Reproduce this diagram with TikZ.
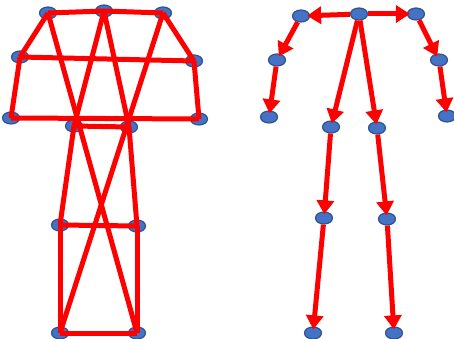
\documentclass[tikz,border=0pt]{standalone}
\usetikzlibrary{shapes.geometric,arrows.meta}
\definecolor{jointfill}{HTML}{4472C4}
\definecolor{jointdraw}{HTML}{2F528F}
\begin{document}
\begin{tikzpicture}[x=1pt,y=-1pt,
  joint/.style={ellipse,fill=jointfill,draw=jointdraw,line width=1.2pt,minimum width=17pt,minimum height=12pt,inner sep=0pt},
  bone/.style={red,line width=5pt},
  arr/.style={red,line width=5pt,-{Triangle[length=14pt,width=17pt]},shorten >=-3pt}]
\useasboundingbox (0,0) rectangle (454,339);
% left graph nodes
\node[joint] (A1) at (48,13) {};
\node[joint] (A2) at (104,11) {};
\node[joint] (A3) at (163,13) {};
\node[joint] (B1) at (20,57) {};
\node[joint] (B2) at (194,61) {};
\node[joint] (C1) at (11,118) {};
\node[joint] (C2) at (199,119) {};
\node[joint] (D1) at (74,126) {};
\node[joint] (D2) at (129,127) {};
\node[joint] (E1) at (60,225) {};
\node[joint] (E2) at (137,226) {};
\node[joint] (F1) at (60,333) {};
\node[joint] (F2) at (137,333) {};
% left graph edges
\draw[bone] (A1.center) -- (A2.center);
\draw[bone] (A2.center) -- (A3.center);
\draw[bone] (A1.center) -- (B1.center);
\draw[bone] (A3.center) -- (B2.center);
\draw[bone] (B1.center) -- (B2.center);
\draw[bone] (B1.center) -- (C1.center);
\draw[bone] (B2.center) -- (C2.center);
\draw[bone] (C1.center) -- (C2.center);
\draw[bone] (A2.center) -- (D1.center);
\draw[bone] (A2.center) -- (D2.center);
\draw[bone] (A1.center) -- (F2.center);
\draw[bone] (A3.center) -- (F1.center);
\draw[bone] (D1.center) -- (D2.center);
\draw[bone] (D1.center) -- (E1.center);
\draw[bone] (D2.center) -- (E2.center);
\draw[bone] (E1.center) -- (E2.center);
\draw[bone] (E1.center) -- (F1.center);
\draw[bone] (E2.center) -- (F2.center);
\draw[bone] (F1.center) -- (F2.center);
% right graph nodes
\node[joint] (N) at (359,14) {};
\node[joint] (LS) at (301,16) {};
\node[joint] (RS) at (416,14) {};
\node[joint] (LE) at (277,60) {};
\node[joint] (RE) at (439,60) {};
\node[joint] (LW) at (269,117) {};
\node[joint] (RW) at (447,116) {};
\node[joint] (LH) at (331,127) {};
\node[joint] (RH) at (377,128) {};
\node[joint] (LK) at (324,218) {};
\node[joint] (RK) at (387,219) {};
\node[joint] (LA) at (313,333) {};
\node[joint] (RA) at (394,333) {};
% right graph arrows
\draw[arr] (N) -- (LS);
\draw[arr] (N) -- (RS);
\draw[arr] (LS) -- (LE);
\draw[arr] (LE) -- (LW);
\draw[arr] (RS) -- (RE);
\draw[arr] (RE) -- (RW);
\draw[arr] (N) -- (LH);
\draw[arr] (N) -- (RH);
\draw[arr] (LH) -- (LK);
\draw[arr] (RH) -- (RK);
\draw[arr] (LK) -- (LA);
\draw[arr] (RK) -- (RA);
\end{tikzpicture}
\end{document}
